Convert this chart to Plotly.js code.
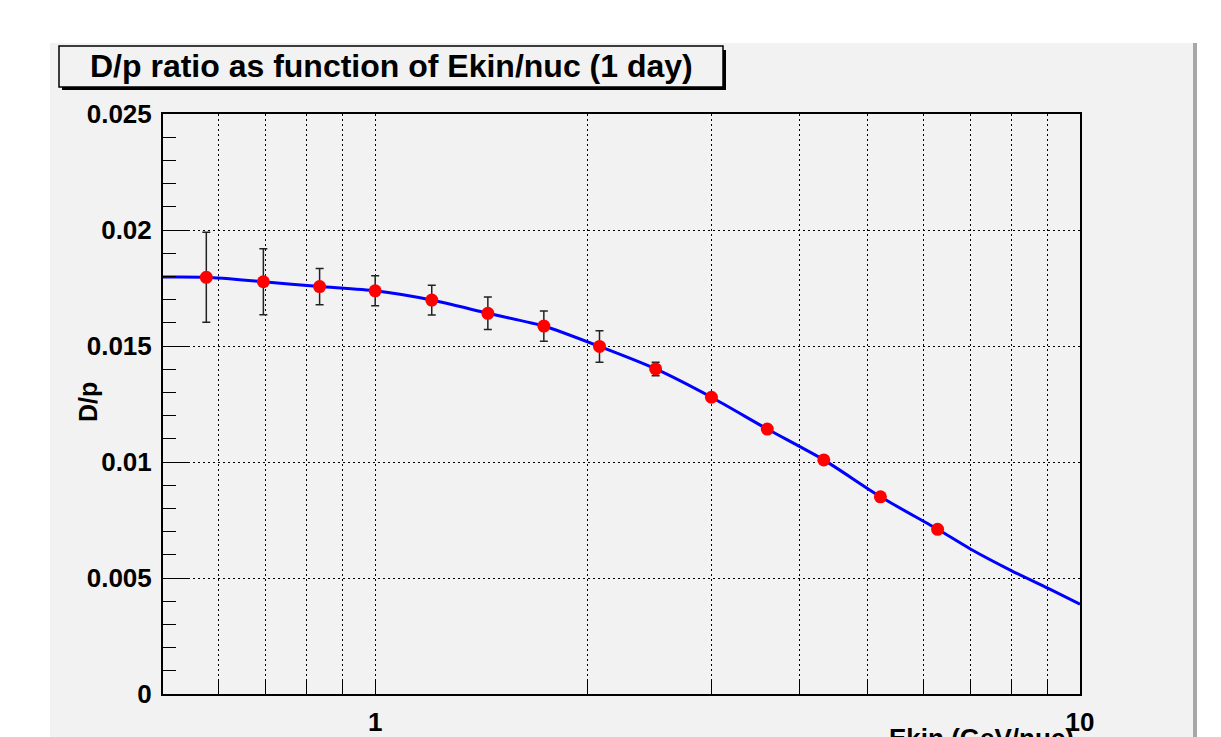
<!DOCTYPE html>
<html>
<head>
<meta charset="utf-8">
<script src="https://cdn.plot.ly/plotly-3.0.1.min.js"></script>
<style>
  html, body { margin: 0; padding: 0; background: #ffffff; }
  #chart { width: 1221px; height: 737px; }
</style>
</head>
<body>
<div id="chart"></div>
<script>
// ---- data ----
const ekin      = [0.576, 0.694, 0.834, 1.0, 1.203, 1.445, 1.735, 2.081, 2.50, 3.00, 3.60, 4.33, 5.21, 6.28];
const dpRatio   = [0.01796, 0.01777, 0.01756, 0.01738, 0.01698, 0.01641, 0.01586, 0.01498, 0.01401, 0.01279, 0.01142, 0.01009, 0.00850, 0.00710];
const dpError   = [0.00194, 0.00142, 0.00078, 0.00065, 0.00064, 0.00070, 0.00065, 0.00068, 0.00029, 0, 0, 0, 0, 0];
const fitX      = [0.5, 0.576, 0.694, 0.834, 1.0, 1.203, 1.445, 1.735, 2.081, 2.50, 3.00, 3.60, 4.33, 5.21, 6.28, 7, 8, 9, 10];
const fitY      = [0.01797, 0.01796, 0.01777, 0.01756, 0.01738, 0.01698, 0.01641, 0.01586, 0.01498, 0.01401, 0.01279, 0.01142, 0.01009, 0.00850, 0.00710, 0.00624, 0.00531, 0.00456, 0.00387];
const xTickVals = [0.6, 0.7, 0.8, 0.9, 1, 2, 3, 4, 5, 6, 7, 8, 9, 10];
const xTickText = ['', '', '', '', '1', '', '', '', '', '', '', '', '', '10'];
const yTickVals = [0, 0.005, 0.01, 0.015, 0.02, 0.025];
const yTickText = ['0', '0.005', '0.01', '0.015', '0.02', '0.025'];
const chartTitle = 'D/p ratio as function of Ekin/nuc (1 day)';
const xTitle = 'Ekin (GeV/nuc)';
const yTitle = 'D/p';

// ---- layout geometry ----
const W = 1221, H = 737;
const M = {l: 163, r: 141, t: 114, b: 43};
const pw = W - M.l - M.r, ph = H - M.t - M.b;
const px = x => (x - M.l) / pw;          // pixel -> paper x
const py = y => (H - M.b - y) / ph;      // pixel -> paper y

const FONT = 'Liberation Sans, Arial, Helvetica, sans-serif';
const BG = '#f2f2f2';
const GRIDDASH = '2px,3px';

const fit = {
  x: fitX, y: fitY, type: 'scatter', mode: 'lines',
  line: {color: '#0000ff', width: 3, shape: 'spline', smoothing: 0.6},
  hoverinfo: 'skip', showlegend: false
};
const pts = {
  x: ekin, y: dpRatio, type: 'scatter', mode: 'markers',
  marker: {color: '#ff0000', size: 13, line: {width: 0}},
  error_y: {type: 'data', array: dpError, visible: true, color: '#222222', thickness: 1.5, width: 4},
  showlegend: false
};

const layout = {
  width: W, height: H,
  margin: M,
  paper_bgcolor: '#ffffff',
  plot_bgcolor: BG,
  showlegend: false,
  font: {family: FONT, color: '#000000'},
  xaxis: {
    type: 'log', range: [Math.log10(0.5), 1],
    tickmode: 'array', tickvals: xTickVals, ticktext: xTickText,
    ticks: 'inside', ticklen: 15, tickwidth: 1, tickcolor: '#000000',
    showgrid: true, gridcolor: '#000000', griddash: GRIDDASH, gridwidth: 1,
    showline: true, linecolor: '#000000', linewidth: 2, mirror: true,
    zeroline: false,
    tickfont: {family: FONT, size: 26, weight: 'bold', color: '#000000'},
    ticklabelstandoff: 4
  },
  yaxis: {
    range: [0, 0.025],
    tickmode: 'array', tickvals: yTickVals, ticktext: yTickText,
    ticks: 'inside', ticklen: 26, tickwidth: 1, tickcolor: '#000000',
    minor: {dtick: 0.001, ticks: 'inside', ticklen: 13, tickwidth: 1, tickcolor: '#000000', showgrid: false},
    showgrid: true, gridcolor: '#000000', griddash: GRIDDASH, gridwidth: 1,
    showline: true, linecolor: '#000000', linewidth: 2, mirror: true,
    zeroline: false,
    tickfont: {family: FONT, size: 26, weight: 'bold', color: '#000000'},
    ticklabelstandoff: 4
  },
  shapes: [
    // pad background
    {type: 'rect', xref: 'paper', yref: 'paper', layer: 'below',
     x0: px(50), x1: px(1194), y0: py(43), y1: py(740),
     fillcolor: BG, line: {width: 0}},
    // pad right shadow border
    {type: 'rect', xref: 'paper', yref: 'paper', layer: 'below',
     x0: px(1193), x1: px(1197), y0: py(43), y1: py(740),
     fillcolor: '#a8a8a8', line: {width: 0}},
    // title box shadow
    {type: 'rect', xref: 'paper', yref: 'paper', layer: 'above',
     x0: px(62), x1: px(726), y0: py(50), y1: py(90),
     fillcolor: '#000000', line: {width: 0}},
    // title box
    {type: 'rect', xref: 'paper', yref: 'paper', layer: 'above',
     x0: px(59), x1: px(723), y0: py(46), y1: py(87),
     fillcolor: BG, line: {color: '#000000', width: 1.5}}
  ],
  annotations: [
    {text: chartTitle, xref: 'paper', yref: 'paper', x: px(391), y: py(66),
     xanchor: 'center', yanchor: 'middle', showarrow: false,
     font: {family: FONT, size: 32, weight: 'bold', color: '#000000'}},
    {text: yTitle, xref: 'paper', yref: 'paper', x: px(88), y: py(402),
     xanchor: 'center', yanchor: 'middle', textangle: -90, showarrow: false,
     font: {family: FONT, size: 25, weight: 'bold', color: '#000000'}},
    {text: xTitle, xref: 'paper', yref: 'paper', x: px(1076), y: py(738),
     xanchor: 'right', yanchor: 'middle', showarrow: false,
     font: {family: FONT, size: 26, weight: 'bold', color: '#000000'}}
  ]
};

Plotly.newPlot('chart', [fit, pts], layout, {displayModeBar: false, staticPlot: true});
</script>
</body>
</html>
